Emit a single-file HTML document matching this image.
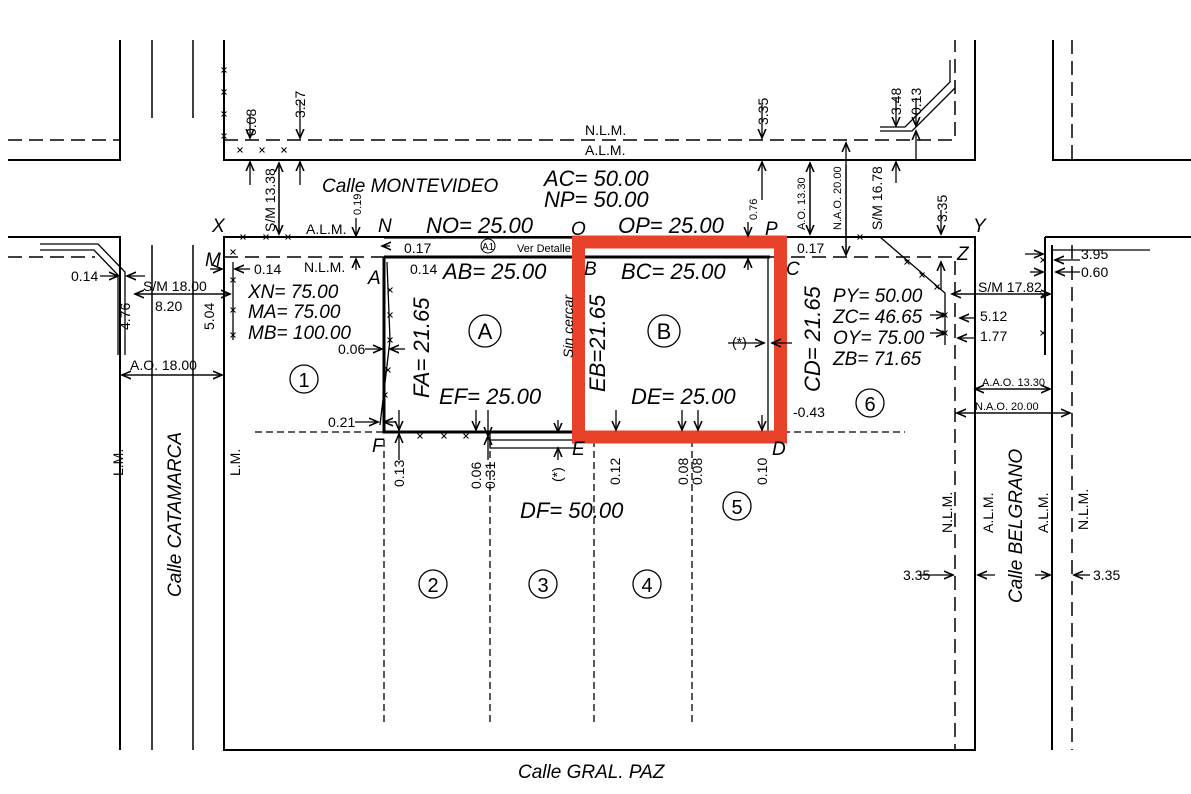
<!DOCTYPE html>
<html><head><meta charset="utf-8"><style>
html,body{margin:0;padding:0;background:#fff;width:1191px;height:794px;overflow:hidden}
svg{display:block}
text{font-family:"Liberation Sans",sans-serif;fill:#000}
.b{font-size:22px;font-style:italic}
.m{font-size:19px;font-style:italic}
.s{font-size:14px}
.xs{font-size:11px}
.ln{stroke:#000;stroke-width:2;fill:none}
.th{stroke:#000;stroke-width:1.3;fill:none}
.tk{stroke:#000;stroke-width:3;fill:none}
.d{stroke:#000;stroke-width:1.5;fill:none;stroke-dasharray:14 7}
.d2{stroke:#000;stroke-width:1.3;fill:none;stroke-dasharray:7 4}
.x{stroke:#000;stroke-width:1}
</style></head><body>
<svg width="1191" height="794" viewBox="0 0 1191 794">
<defs><marker id="a" markerWidth="8" markerHeight="8" refX="7" refY="4" orient="auto"><path d="M0,1 L7,4 L0,7" fill="none" stroke="#000" stroke-width="1.2"/></marker>
<path id="xm" d="M-2.5,-2.5 L2.5,2.5 M-2.5,2.5 L2.5,-2.5" stroke="#000" stroke-width="1"/></defs>

<path class="ln" d="M8,160 H120 V40"/>
<path class="d" d="M8,140 H120"/>
<path stroke="#000" stroke-width="1.5" d="M152,40 V118 M193,40 V118"/>
<path class="ln" d="M224,40 V160 H975 V40"/>
<path class="d" d="M224,140 H955 V40"/>
<path class="th" d="M880,127 H905 L950,82 V60 M880,131 H912 L955,88"/>
<path class="ln" d="M1053,40 V160 H1191"/>
<path class="d" d="M1072,40 V160"/>

<path class="ln" d="M8,237 H120 V750"/>
<path class="d" d="M8,257 H95"/>
<path class="th" d="M40,244 H98 L125,272 V355 M40,250 H94 L118,275 V355"/>
<path stroke="#000" stroke-width="1.5" d="M152,245 V750 M193,245 V750"/>
<path class="ln" d="M224,750 V237 H975 V750 Z"/>
<path class="th" d="M233,262 V340"/>
<path class="d" d="M224,257 H955 V750"/>
<path class="ln" d="M1045,237 H1191 M1045,237 V355 M1052,245 V750"/>
<path class="th" d="M1053,250 H1150"/>
<path class="d" d="M1072,245 V750"/>
<path class="th" d="M880,237 L945,293 V345"/>

<path class="th" d="M384,238 H770"/>
<path class="tk" d="M384,257 H770 M384,257 V432 H770 M575,257 V432"/>
<path class="th" d="M768,257 V432"/>
<path class="th" d="M387,262 L390,340 L380,425"/>
<path class="th" d="M490,432 V440 H575 V448 H490 Z"/>
<path class="d2" d="M255,432 H905"/>
<path class="d2" d="M384,440 V725 M490,440 V725 M594,440 V725 M692,440 V725"/>

<g>
<use href="#xm" x="224" y="70"/><use href="#xm" x="224" y="92"/><use href="#xm" x="224" y="114"/><use href="#xm" x="224" y="136"/>
<use href="#xm" x="240" y="150"/><use href="#xm" x="262" y="150"/><use href="#xm" x="284" y="150"/>
<use href="#xm" x="243" y="237"/><use href="#xm" x="266" y="237"/><use href="#xm" x="288" y="237"/>
<use href="#xm" x="233" y="252"/><use href="#xm" x="233" y="280"/><use href="#xm" x="233" y="310"/><use href="#xm" x="233" y="335"/>
<use href="#xm" x="390" y="290"/><use href="#xm" x="390" y="315"/><use href="#xm" x="390" y="340"/><use href="#xm" x="388" y="370"/><use href="#xm" x="385" y="395"/>
<use href="#xm" x="420" y="436"/><use href="#xm" x="444" y="436"/><use href="#xm" x="466" y="436"/>
<use href="#xm" x="907" y="262"/><use href="#xm" x="922" y="275"/><use href="#xm" x="937" y="287"/><use href="#xm" x="945" y="315"/><use href="#xm" x="945" y="333"/>
<use href="#xm" x="1043" y="260"/><use href="#xm" x="1043" y="295"/><use href="#xm" x="1043" y="333"/>
<use href="#xm" x="860" y="237"/>
</g>

<rect x="578.5" y="242" width="202" height="195" fill="none" stroke="#e8432a" stroke-width="13"/>

<g class="th" marker-end="url(#a)">
<path d="M279,165 V234"/><path d="M279,232 V163"/>
<path d="M250,115 V138"/><path d="M250,185 V162"/>
<path d="M300,100 V138"/><path d="M300,185 V162"/>
<path d="M762,105 V138"/><path d="M762,200 V162"/>
<path d="M810,165 V234"/><path d="M810,232 V163"/>
<path d="M846,165 V255"/><path d="M846,252 V143"/>
<path d="M896,98 V126"/><path d="M896,183 V162"/>
<path d="M916,98 V126"/><path d="M916,160 V131"/>
<path d="M941,210 V234"/><path d="M941,290 V262"/>
<path d="M356,218 V236"/><path d="M356,270 V259"/>
<path d="M748,222 V236"/><path d="M748,270 V259"/>
<path d="M952,294 H1050"/><path d="M1050,294 H952"/>
<path d="M135,294 H230"/><path d="M230,294 H135"/>
<path d="M120,375 H222"/><path d="M222,375 H122"/>
<path d="M975,389 H1050"/><path d="M1050,389 H975"/>
<path d="M955,413 H1070"/><path d="M1070,413 H957"/>
<path d="M100,276 H118"/><path d="M145,276 H127"/>
<path d="M210,269 H222"/><path d="M250,269 H235"/>
<path d="M365,349 H382"/><path d="M405,349 H390"/>
<path d="M355,422 H378"/><path d="M395,422 H384"/>
<path d="M728,343 H764"/><path d="M792,343 H772"/>
<path d="M930,315 H945"/><path d="M930,333 H945"/>
<path d="M975,318 H960"/><path d="M975,338 H958"/>
<path d="M1025,254 H1043"/><path d="M1080,260 H1055"/>
<path d="M1030,272 H1043"/><path d="M1080,272 H1056"/>
<path d="M920,575 H953"/><path d="M995,575 H978"/>
<path d="M1035,575 H1050"/><path d="M1090,575 H1074"/>
<path d="M399,410 V430"/><path d="M399,460 V434"/>
<path d="M476,410 V430"/><path d="M488,410 V436"/><path d="M488,460 V436"/><path d="M558,420 V432"/><path d="M558,460 V448"/>
<path d="M616,410 V430"/><path d="M682,410 V430"/><path d="M698,410 V430"/><path d="M762,415 V430"/>
<path d="M390,246 H382"/>
</g>

<text class="m" x="322" y="192">Calle MONTEVIDEO</text>
<text class="b" x="544" y="186">AC= 50.00</text>
<text class="b" x="544" y="207">NP= 50.00</text>
<text class="b" x="426" y="233">NO= 25.00</text>
<text class="b" x="618" y="233">OP= 25.00</text>
<text class="s" x="585" y="135">N.L.M.</text>
<text class="s" x="585" y="155">A.L.M.</text>
<text class="m" x="212" y="232">X</text>
<text class="m" x="378" y="232">N</text>
<text class="m" x="571" y="235">O</text>
<text class="m" x="765" y="235">P</text>
<text class="m" x="973" y="232">Y</text>
<text class="m" x="957" y="260">Z</text>
<text class="m" x="205" y="266">M</text>
<text class="m" x="368" y="284">A</text>
<text class="m" x="584" y="275">B</text>
<text class="m" x="786" y="275">C</text>
<text class="m" x="372" y="452">F</text>
<text class="m" x="572" y="455">E</text>
<text class="m" x="772" y="455">D</text>
<text class="s" x="306" y="234">A.L.M.</text>
<text class="s" x="304" y="272">N.L.M.</text>
<text class="s" x="404" y="253">0.17</text>
<text class="s" x="797" y="253">0.17</text>
<text class="s" x="254" y="274">0.14</text>
<text class="s" x="410" y="274">0.14</text>
<text class="s" x="71" y="281">0.14</text>
<text class="s" x="143" y="291">S/M 18.00</text>
<text class="s" x="155" y="311">8.20</text>
<text class="s" x="130" y="370">A.O. 18.00</text>
<text class="s" x="338" y="354">0.06</text>
<text class="s" x="328" y="427">0.21</text>
<text class="s" x="793" y="417">-0.43</text>
<text class="s" x="732" y="347">(*)</text>
<text class="xs" x="517" y="252">Ver Detalle</text>
<circle cx="488" cy="246" r="7" fill="none" stroke="#000"/><text class="xs" x="482" y="250" style="font-size:10px">A1</text>
<text class="b" x="443" y="279">AB= 25.00</text>
<text class="b" x="621" y="279">BC= 25.00</text>
<text class="b" x="439" y="404">EF= 25.00</text>
<text class="b" x="631" y="404">DE= 25.00</text>
<text class="b" x="520" y="518">DF= 50.00</text>
<text class="m" x="248" y="298">XN= 75.00</text>
<text class="m" x="248" y="318">MA= 75.00</text>
<text class="m" x="248" y="339">MB= 100.00</text>
<text class="m" x="833" y="302">PY= 50.00</text>
<text class="m" x="833" y="323">ZC= 46.65</text>
<text class="m" x="833" y="344">OY= 75.00</text>
<text class="m" x="833" y="365">ZB= 71.65</text>
<text class="s" x="978" y="292">S/M 17.82</text>
<text class="s" x="980" y="321">5.12</text>
<text class="s" x="980" y="341">1.77</text>
<text class="s" x="1081" y="259">3.95</text>
<text class="s" x="1081" y="277">0.60</text>
<text class="xs" x="982" y="386">A.A.O. 13.30</text>
<text class="xs" x="975" y="410">N.A.O. 20.00</text>
<text class="s" x="903" y="580">3.35</text>
<text class="s" x="1093" y="580">3.35</text>
<text class="m" x="518" y="778">Calle GRAL. PAZ</text>

<g>
<text transform="translate(256,136) rotate(-90)" class="s">0.08</text>
<text transform="translate(305,118) rotate(-90)" class="s">3.27</text>
<text transform="translate(275,232) rotate(-90)" class="s">S/M 13.38</text>
<text transform="translate(361,215) rotate(-90)" class="xs">0.19</text>
<text transform="translate(768,125) rotate(-90)" class="s">3.35</text>
<text transform="translate(757,220) rotate(-90)" class="xs">0.76</text>
<text transform="translate(805,230) rotate(-90)" class="xs">A.O. 13.30</text>
<text transform="translate(841,230) rotate(-90)" class="xs">N.A.O. 20.00</text>
<text transform="translate(882,230) rotate(-90)" class="s">S/M 16.78</text>
<text transform="translate(901,115) rotate(-90)" class="s">3.48</text>
<text transform="translate(921,115) rotate(-90)" class="s">0.13</text>
<text transform="translate(947,222) rotate(-90)" class="s">3.35</text>
<text transform="translate(130,330) rotate(-90)" class="s">4.76</text>
<text transform="translate(214,330) rotate(-90)" class="s">5.04</text>
<text transform="translate(404,487) rotate(-90)" class="s">0.13</text>
<text transform="translate(481,489) rotate(-90)" class="s">0.06</text>
<text transform="translate(495,489) rotate(-90)" class="s">0.31</text>
<text transform="translate(562,482) rotate(-90)" class="s">(*)</text>
<text transform="translate(620,485) rotate(-90)" class="s">0.12</text>
<text transform="translate(688,485) rotate(-90)" class="s">0.08</text>
<text transform="translate(702,485) rotate(-90)" class="s">0.08</text>
<text transform="translate(767,485) rotate(-90)" class="s">0.10</text>
<text transform="translate(123,476) rotate(-90)" class="s">L.M.</text>
<text transform="translate(240,476) rotate(-90)" class="s">L.M.</text>
<text transform="translate(952,533) rotate(-90)" class="s">N.L.M.</text>
<text transform="translate(993,533) rotate(-90)" class="s">A.L.M.</text>
<text transform="translate(1048,533) rotate(-90)" class="s">A.L.M.</text>
<text transform="translate(1088,530) rotate(-90)" class="s">N.L.M.</text>
<text transform="translate(181,597) rotate(-90)" class="m">Calle CATAMARCA</text>
<text transform="translate(1022,603) rotate(-90)" class="m">Calle BELGRANO</text>
<text transform="translate(429,398) rotate(-90)" class="b">FA= 21.65</text>
<text transform="translate(605,392) rotate(-90)" class="b">EB=21.65</text>
<text transform="translate(820,392) rotate(-90)" class="b">CD= 21.65</text>
<text transform="translate(573,358) rotate(-90)" class="s" style="font-style:italic">Sin cercar</text>
</g>

<g fill="none" stroke="#000" stroke-width="1.3">
<circle cx="485" cy="331" r="16"/><circle cx="664" cy="331" r="16"/>
<circle cx="304" cy="379" r="14"/><circle cx="433" cy="584" r="14"/>
<circle cx="543" cy="584" r="14"/><circle cx="647" cy="584" r="14"/>
<circle cx="737" cy="506" r="14"/><circle cx="870" cy="403" r="14"/>
</g>
<g font-size="22" text-anchor="middle">
<text x="485" y="339">A</text><text x="664" y="339">B</text>
<text x="304" y="387" font-size="20">1</text><text x="433" y="592" font-size="20">2</text>
<text x="543" y="592" font-size="20">3</text><text x="647" y="592" font-size="20">4</text>
<text x="737" y="514" font-size="20">5</text><text x="870" y="411" font-size="20">6</text>
</g>
</svg>
</body></html>
